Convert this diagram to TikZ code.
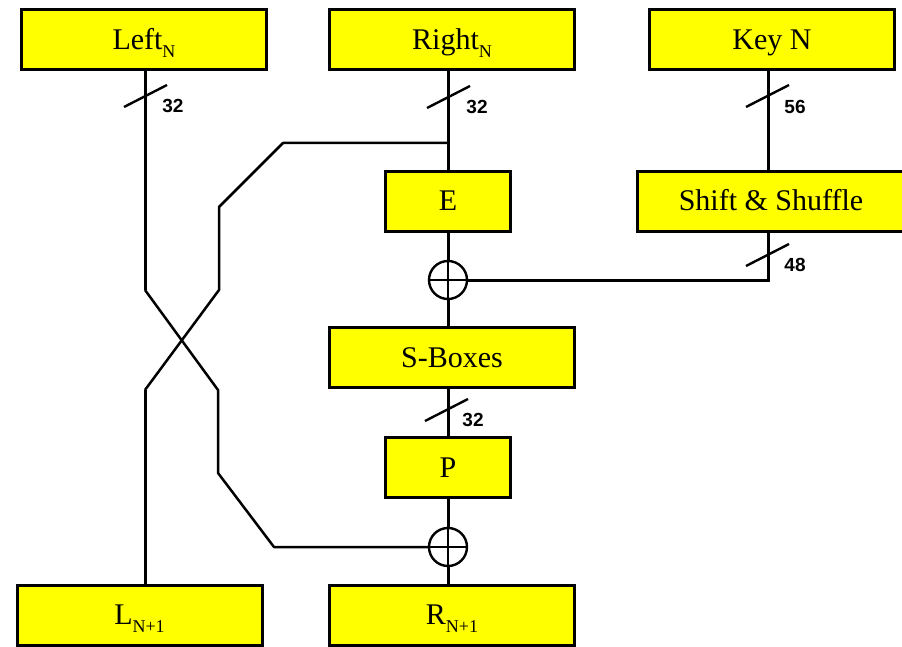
\documentclass[tikz,border=0pt]{standalone}
\usepackage{fontspec}
\setmainfont{Liberation Serif}
\setsansfont{Liberation Sans}
\usetikzlibrary{calc}

\definecolor{boxyellow}{RGB}{255,255,0}

% subscript set lower and smaller than the body text
\newcommand\dsub[1]{\raisebox{-8pt}{\fontsize{18}{18}\selectfont #1}}

\tikzset{
  block/.style={draw=black, line width=3pt, fill=boxyellow, inner sep=0pt,
    minimum height=60pt, text height=19pt, text depth=0pt,
    font=\fontsize{30}{30}\selectfont},
  wide/.style={block, minimum width=245pt},
  narrow/.style={block, minimum width=125pt},
  xorgate/.style={circle, draw=black, line width=2.4pt, minimum size=38pt, inner sep=0pt,
    path picture={\draw[line width=2.6pt]
      (path picture bounding box.north) -- (path picture bounding box.south)
      (path picture bounding box.west) -- (path picture bounding box.east);}},
  wire/.style={line width=3pt, line join=miter},
  thinwire/.style={line width=2.5pt, line join=round},
  bits/.style={font=\fontsize{19}{19}\selectfont\sffamily\bfseries, inner sep=0pt},
  busmark/.pic={\draw[line width=2.4pt] (-21,11) -- (22,-11);}
}

\begin{document}
\begin{tikzpicture}[x=1pt, y=-1pt]
  \useasboundingbox[fill=white] (0,0) rectangle (902,647);

  % blocks
  \node[wide]   (leftN)  at (144,40)    {Left\dsub{N}};
  \node[wide]   (rightN) at (452,40)    {Right\dsub{N}};
  \node[wide]   (keyN)   at (772,40)    {Key N};
  \node[narrow] (E)      at (448,201.5) {E};
  \node[block, minimum width=267pt] (shift) at (771,201.5) {Shift \& Shuffle};
  \node[wide]   (sbox)   at (452,357.5) {S-Boxes};
  \node[narrow] (P)      at (448,467.5) {P};
  \node[wide]   (lnext)  at (139.5,615) {L\dsub{N+1}};
  \node[wide]   (rnext)  at (452,615)   {R\dsub{N+1}};

  % exclusive-or gates
  \node[xorgate] (xor1) at (448,280) {};
  \node[xorgate] (xor2) at (448,547) {};

  % vertical lanes
  \coordinate (lx) at (145,0);
  \coordinate (rx) at (448,0);
  \coordinate (kx) at (768,0);

  % right half datapath
  \draw[wire] (rightN.south -| rx) -- (E.north);
  \draw[wire] (E.south) -- (xor1.north);
  \draw[wire] (xor1.south) -- (sbox.north -| rx);
  \draw[wire] (sbox.south -| rx) -- (P.north);
  \draw[wire] (P.south) -- (xor2.north);
  \draw[wire] (xor2.south) -- (rnext.north -| rx);

  % key schedule
  \draw[wire] (keyN.south -| kx) -- (shift.north -| kx);
  \coordinate (kturn) at (768,280);
  \draw[wire] (shift.south -| kx) -- (kturn) -- (xor1.east);

  % left half goes down and feeds the lower gate
  \coordinate (a1) at (145,290);
  \coordinate (a2) at (218,390);
  \coordinate (a3) at (218,473);
  \coordinate (a4) at (274,547);
  \draw[wire] (leftN.south -| lx) -- (a1);
  \draw[thinwire] (a1) -- (a2) -- (a3) -- (a4) -- (xor2.west);

  % right half is copied across to the new left half
  \coordinate (b0) at (448,143);
  \coordinate (b1) at (283,143);
  \coordinate (b2) at (219,207);
  \coordinate (b3) at (219,290);
  \coordinate (b4) at (145,390);
  \draw[thinwire] (b0) -- (b1) -- (b2) -- (b3) -- (b4);
  \draw[wire] (b4) -- (lnext.north -| lx);

  % bus widths
  \pic at (145,96)  {busmark};
  \pic at (448,97)  {busmark};
  \pic at (767,96)  {busmark};
  \pic at (767,255) {busmark};
  \pic at (446,410) {busmark};
  \node[bits] (w1) at (173,106) {32};
  \node[bits] (w2) at (477,107) {32};
  \node[bits] (w3) at (795,107) {56};
  \node[bits] (w4) at (795,265) {48};
  \node[bits] (w5) at (473,420) {32};
\end{tikzpicture}
\end{document}
